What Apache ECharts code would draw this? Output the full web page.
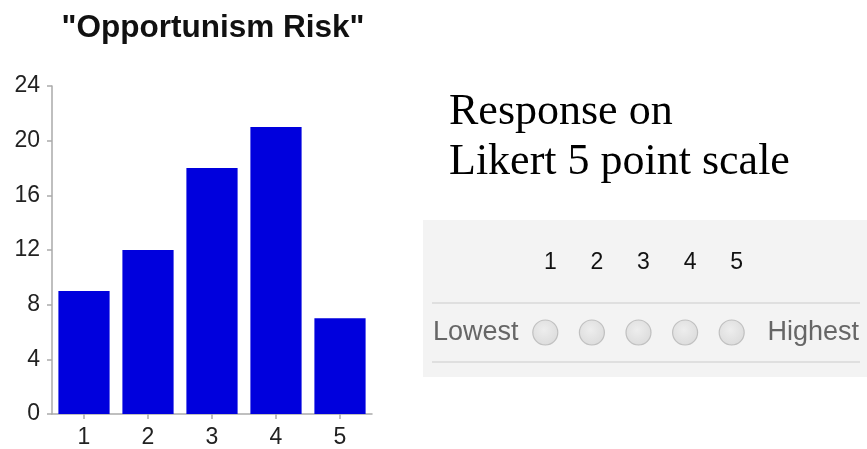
<!DOCTYPE html>
<html>
<head>
<meta charset="utf-8">
<script src="https://cdn.jsdelivr.net/npm/echarts@6/dist/echarts.min.js"></script>
<style>
html,body{margin:0;padding:0;background:#fff;}
#chart{width:867px;height:449px;}
</style>
</head>
<body>
<div id="chart"></div>
<script>
// Data
var categories = ['1', '2', '3', '4', '5'];
var counts = [9, 12, 18, 21, 7];
var yTicks = { min: 0, max: 24, interval: 4 };
var scaleLabels = ['1', '2', '3', '4', '5'];
var scaleValues = [0, 0, 0, 0, 0];
var chartTitle = '"Opportunism Risk"';
var sideText = 'Response on\nLikert 5 point scale';
var lowLabel = 'Lowest';
var highLabel = 'Highest';

var chart = echarts.init(document.getElementById('chart'));
var sans = 'Liberation Sans, Arial, sans-serif';

chart.setOption({
  animation: false,
  backgroundColor: '#ffffff',
  title: [
    {
      text: chartTitle,
      left: 208, textAlign: 'center', top: 7,
      textStyle: { fontFamily: sans, fontWeight: 'bold', fontSize: 31.5, color: '#111' }
    },
    {
      text: sideText,
      left: 444, top: 82,
      textStyle: { fontFamily: 'Liberation Serif, Times New Roman, serif', fontWeight: 'normal', fontSize: 44, lineHeight: 50, color: '#000' }
    }
  ],
  graphic: [
    { type: 'rect', z: -10, shape: { x: 423, y: 220, width: 444, height: 157 }, style: { fill: '#f3f3f3' } },
    { type: 'line', z: -5, shape: { x1: 432, y1: 303, x2: 860, y2: 303 }, style: { stroke: '#d8d8d8', lineWidth: 1.5 } },
    { type: 'line', z: -5, shape: { x1: 432, y1: 362, x2: 860, y2: 362 }, style: { stroke: '#d8d8d8', lineWidth: 1.5 } },
    { type: 'text', z: 5, x: 433, y: 333, style: { text: lowLabel, fontFamily: sans, fontSize: 27, fill: '#666', textVerticalAlign: 'middle', verticalAlign: 'middle' } },
    { type: 'text', z: 5, x: 859, y: 333, style: { text: highLabel, fontFamily: sans, fontSize: 27, fill: '#666', textAlign: 'right', align: 'right', textVerticalAlign: 'middle', verticalAlign: 'middle' } }
  ],
  grid: [
    { left: 52, top: 86, width: 320, height: 329, containLabel: false },
    { left: 522, top: 320, width: 233, height: 25, containLabel: false }
  ],
  xAxis: [
    {
      type: 'category', gridIndex: 0, data: categories,
      axisLine: { show: true, lineStyle: { color: '#aaa', width: 1.5 } },
      axisTick: { show: true, alignWithLabel: true, length: 5, lineStyle: { color: '#aaa', width: 1.5 } },
      axisLabel: { fontFamily: sans, fontSize: 23, color: '#222', margin: 12 }
    },
    {
      type: 'category', gridIndex: 1, data: scaleLabels, position: 'top',
      axisLine: { show: false }, axisTick: { show: false },
      axisLabel: { fontFamily: sans, fontSize: 23, color: '#111', margin: 46, padding: [0, 0, 0, 10] }
    }
  ],
  yAxis: [
    {
      type: 'value', gridIndex: 0, min: yTicks.min, max: yTicks.max, interval: yTicks.interval,
      axisLine: { show: true, lineStyle: { color: '#aaa', width: 1.5 } },
      axisTick: { show: true, length: 5, lineStyle: { color: '#aaa', width: 1.5 } },
      splitLine: { show: false },
      axisLabel: { fontFamily: sans, fontSize: 23, color: '#222', margin: 12 }
    },
    {
      type: 'value', gridIndex: 1, min: -1, max: 1, show: false
    }
  ],
  series: [
    {
      type: 'bar', xAxisIndex: 0, yAxisIndex: 0, data: counts,
      barCategoryGap: '20%',
      itemStyle: { color: '#0000dd' }
    },
    {
      type: 'scatter', xAxisIndex: 1, yAxisIndex: 1, data: scaleValues,
      symbol: 'circle', symbolSize: 25,
      itemStyle: {
        color: {
          type: 'radial', x: 0.45, y: 0.4, r: 0.6,
          colorStops: [{ offset: 0, color: '#ececec' }, { offset: 1, color: '#d6d6d6' }]
        },
        borderColor: '#b5b5b5', borderWidth: 1.2
      },
      silent: true
    }
  ]
});
</script>
</body>
</html>
